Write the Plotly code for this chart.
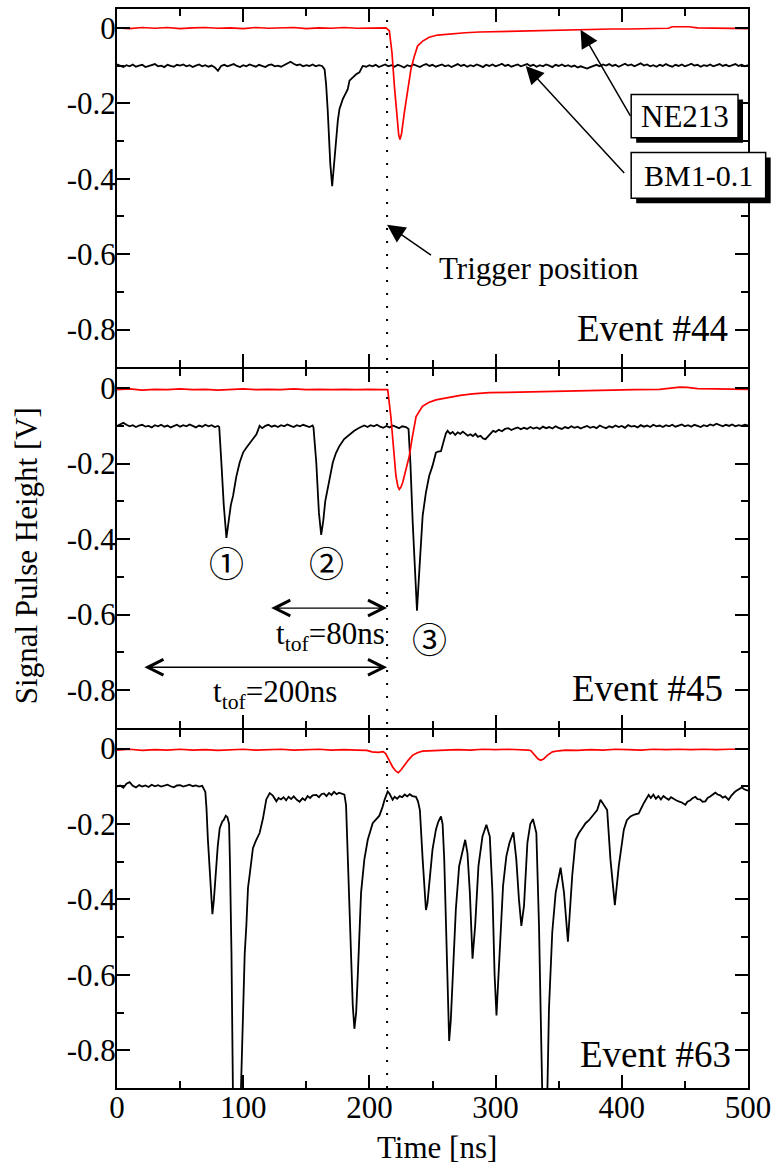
import plotly.graph_objects as go
from plotly.subplots import make_subplots

# ---------------- data: (time [ns], signal [V]) ----------------
# Event #44
E44_BM1 = [(0,-0.097),(2.5,-0.101),(5,-0.104),(7.5,-0.099),(10,-0.102),(12.5,-0.097),(15,-0.103),(17.5,-0.1),
           (20,-0.098),(22.5,-0.104),(25,-0.101),(27.5,-0.099),(30,-0.096),(32.5,-0.102),(35,-0.1),(37.5,-0.104),
           (40,-0.098),(42.5,-0.101),(45,-0.103),(47.5,-0.098),(50,-0.1),(52.5,-0.097),(55,-0.102),(57.5,-0.099),
           (60,-0.104),(62.5,-0.1),(65,-0.097),(67.5,-0.102),(70,-0.099),(72.5,-0.103),(75,-0.1),(77.5,-0.105),
           (80,-0.114),(82.5,-0.101),(85,-0.098),(87.5,-0.102),(90,-0.099),(92.5,-0.096),(95,-0.101),
           (97.5,-0.104),(100,-0.099),(102.5,-0.102),(105,-0.097),(107.5,-0.101),(110,-0.103),(112.5,-0.098),
           (115,-0.1),(117.5,-0.104),(120,-0.099),(122.5,-0.097),(125,-0.102),(127.5,-0.1),(130,-0.103),
           (132.5,-0.098),(135,-0.094),(137.5,-0.09),(140,-0.095),(142.5,-0.099),(145,-0.097),(147.5,-0.102),
           (150,-0.099),(152.5,-0.101),(155,-0.097),(157.5,-0.102),(160,-0.099),(162.5,-0.101),
           (164.5,-0.11),(165.7,-0.15),(167,-0.22),(167.8,-0.285),(169,-0.36),(170.5,-0.42),
           (172,-0.36),(173.6,-0.285),(175,-0.245),(176.3,-0.215),(178.9,-0.189),(181.6,-0.171),(182.9,-0.162),
           (184.2,-0.14),(186.8,-0.132),(189.5,-0.123),(192.1,-0.118),(194.7,-0.101),
           (197.5,-0.103),(200,-0.099),(202.5,-0.102),(205,-0.098),(207.5,-0.104),(210,-0.1),(212.5,-0.097),
           (215,-0.102),(217.5,-0.099),(220,-0.103),(222.5,-0.098),(225,-0.101),(227.5,-0.105),(230,-0.099),
           (232.5,-0.102),(235,-0.097),(237.5,-0.1),(240,-0.104),(242.5,-0.099),(245,-0.096),(247.5,-0.101),
           (250,-0.098),(252.5,-0.103),(255,-0.1),(257.5,-0.097),(260,-0.102),(262.5,-0.099),(265,-0.104),
           (267.5,-0.1),(270,-0.096),(272.5,-0.101),(275,-0.098),(277.5,-0.103),(280,-0.099),(282.5,-0.102),
           (285,-0.097),(287.5,-0.1),(290,-0.104),(292.5,-0.098),(295,-0.101),(297.5,-0.097),(300,-0.102),
           (302.5,-0.099),(305,-0.095),(307.5,-0.101),(310,-0.098),(312.5,-0.103),(315,-0.1),(317.5,-0.097),
           (320,-0.102),(322.5,-0.099),(325,-0.096),(327.5,-0.101),(330,-0.098),(332.5,-0.103),(335,-0.099),
           (337.5,-0.102),(340,-0.097),(342.5,-0.1),(345,-0.104),(347.5,-0.098),(350,-0.101),(352.5,-0.097),
           (355,-0.102),(357.5,-0.099),(360,-0.103),(362.5,-0.1),(365,-0.105),(367.5,-0.102),(370,-0.106),
           (372.5,-0.108),(375,-0.104),(377.5,-0.101),(380,-0.098),(382.5,-0.102),(385,-0.097),(387.5,-0.1),
           (390,-0.096),(392.5,-0.101),(395,-0.098),(397.5,-0.103),(400,-0.099),(402.5,-0.095),(405,-0.1),
           (407.5,-0.097),(410,-0.102),(412.5,-0.099),(415,-0.094),(417.5,-0.1),(420,-0.097),(422.5,-0.102),
           (425,-0.099),(427.5,-0.103),(430,-0.098),(432.5,-0.101),(435,-0.096),(437.5,-0.1),(440,-0.103),
           (442.5,-0.098),(445,-0.101),(447.5,-0.097),(450,-0.102),(452.5,-0.099),(455,-0.095),(457.5,-0.1),
           (460,-0.098),(462.5,-0.103),(465,-0.099),(467.5,-0.101),(470,-0.097),(472.5,-0.102),(475,-0.099),
           (477.5,-0.096),(480,-0.101),(482.5,-0.098),(485,-0.102),(487.5,-0.099),(490,-0.096),(492.5,-0.101),
           (495,-0.098),(497.5,-0.102),(500,-0.099)]
E44_NE213 = [(0,0.0),(10,-0.002),(20,0.001),(30,-0.001),(40,0.001),(50,-0.002),(60,0.0),(70,0.001),(80,-0.001),
             (90,0.0),(100,-0.002),(110,0.001),(120,-0.001),(130,0.0),(140,0.001),(150,-0.002),(160,0.0),
             (170,-0.001),(180,0.001),(190,-0.001),(200,0.0),(208,-0.001),(213.2,0.0),(215.8,-0.008),
             (217.9,-0.066),(219.8,-0.154),(221.6,-0.232),(223.2,-0.283),(224.2,-0.296),(225.5,-0.28),
             (227.7,-0.224),(230.3,-0.162),(232.9,-0.11),(235.6,-0.075),(238.2,-0.048),(242.2,-0.035),
             (247.4,-0.025),(254,-0.019),(265.9,-0.015),(276,-0.013),(287,-0.011),(300,-0.01),(313,-0.009),
             (326,-0.008),(340,-0.006),(353,-0.005),(366,-0.004),(379,-0.004),(392,-0.003),(405,-0.003),
             (418,-0.002),(430,-0.002),(437,-0.001),(440,0.003),(447,0.004),(453,0.003),(460,0.0),(471,-0.001),
             (485,-0.002),(500,-0.002)]

# Event #45
E45_BM1 = [(0,-0.1),(2.5,-0.096),(5,-0.092),(7.5,-0.097),(10,-0.101),(12.5,-0.098),(15,-0.103),(17.5,-0.099),
           (20,-0.097),(22.5,-0.102),(25,-0.1),(27.5,-0.104),(30,-0.098),(32.5,-0.101),(35,-0.097),(37.5,-0.102),
           (40,-0.099),(42.5,-0.104),(45,-0.1),(47.5,-0.097),(50,-0.102),(52.5,-0.098),(55,-0.101),(57.5,-0.096),
           (60,-0.1),(62.5,-0.104),(65,-0.099),(67.5,-0.102),(70,-0.097),(72.5,-0.101),(75,-0.098),(77.5,-0.103),
           (80,-0.1),(81,-0.103),(82.7,-0.197),(84.6,-0.31),(86.7,-0.397),(88.5,-0.35),(90.2,-0.31),
           (92,-0.285),(94.5,-0.235),(97.2,-0.197),(100,-0.17),(102.5,-0.158),(105,-0.146),(107.7,-0.136),
           (110.5,-0.122),(113,-0.1),(115,-0.106),(117.5,-0.1),(120,-0.097),(122.5,-0.102),(125,-0.099),
           (127.5,-0.103),(130,-0.098),(132.5,-0.101),(135,-0.096),(137.5,-0.1),(140,-0.103),(142.5,-0.098),
           (145,-0.101),(147.5,-0.097),(150,-0.1),(152.5,-0.103),(155,-0.099),(155.7,-0.104),(157.9,-0.197),
           (160,-0.33),(161.8,-0.389),(163.5,-0.35),(165,-0.3),(167,-0.268),(169,-0.23),(171,-0.197),
           (173.5,-0.172),(176.3,-0.153),(180,-0.135),(184.2,-0.123),(188,-0.113),(192,-0.105),
           (196,-0.099),(198.5,-0.103),(201,-0.098),(203.5,-0.101),(206,-0.097),(208.5,-0.102),(211,-0.105),
           (213.5,-0.1),(216,-0.104),(218.5,-0.099),(221,-0.102),(223.5,-0.106),(226,-0.101),(229,-0.103),
           (231,-0.108),(232.5,-0.2),(234.3,-0.355),(236.4,-0.53),(237.7,-0.59),(239.5,-0.487),(242.2,-0.338),
           (244.8,-0.276),(247.4,-0.232),(250,-0.206),(252.7,-0.171),(254.5,-0.168),(256.7,-0.167),
           (258.5,-0.145),(260.6,-0.12),(262,-0.113),(264,-0.121),(266,-0.116),(268,-0.124),(270,-0.117),
           (272,-0.121),(274,-0.115),(276,-0.12),(278,-0.126),(280,-0.122),(282,-0.127),(284,-0.121),
           (286,-0.129),(288,-0.126),(290,-0.133),(292,-0.135),(294,-0.128),(296,-0.12),(298,-0.113),
           (300,-0.116),(302.5,-0.11),(305,-0.114),(307.5,-0.108),(310,-0.106),(312.5,-0.111),(315,-0.107),
           (317.5,-0.104),(320,-0.109),(322.5,-0.105),(325,-0.108),(327.5,-0.103),(330,-0.107),(332.5,-0.104),
           (335,-0.108),(337.5,-0.102),(340,-0.106),(342.5,-0.103),(345,-0.107),(347.5,-0.101),(350,-0.105),
           (352.5,-0.108),(355,-0.103),(357.5,-0.106),(360,-0.101),(362.5,-0.105),(365,-0.102),(367.5,-0.107),
           (370,-0.103),(372.5,-0.1),(375,-0.105),(377.5,-0.102),(380,-0.106),(382.5,-0.099),(385,-0.103),
           (387.5,-0.106),(390,-0.101),(392.5,-0.104),(395,-0.099),(397.5,-0.103),(400,-0.1),(402.5,-0.105),
           (405,-0.098),(407.5,-0.102),(410,-0.1),(412.5,-0.104),(415,-0.098),(417.5,-0.102),(420,-0.099),
           (422.5,-0.103),(425,-0.097),(427.5,-0.101),(430,-0.099),(432.5,-0.103),(435,-0.098),(437.5,-0.101),
           (440,-0.097),(442.5,-0.102),(445,-0.099),(447.5,-0.096),(450,-0.101),(452.5,-0.098),(455,-0.102),
           (457.5,-0.097),(460,-0.1),(462.5,-0.103),(465,-0.098),(467.5,-0.101),(470,-0.096),(472.5,-0.099),
           (475,-0.094),(477.5,-0.098),(480,-0.101),(482.5,-0.097),(485,-0.1),(487.5,-0.096),(490,-0.101),
           (492.5,-0.098),(495,-0.1),(497.5,-0.097),(500,-0.099)]
E45_NE213 = [(0,-0.004),(10,-0.002),(20,-0.005),(30,-0.003),(40,-0.004),(50,-0.002),(60,-0.004),(70,-0.003),
             (80,-0.005),(90,-0.003),(100,-0.002),(110,-0.004),(120,-0.003),(130,-0.004),(140,-0.002),
             (150,-0.004),(160,-0.003),(170,-0.004),(180,-0.003),(190,-0.004),(200,-0.003),(210,-0.004),
             (214.5,-0.004),(217,-0.075),(219,-0.15),(221,-0.232),(222.5,-0.26),(223.7,-0.268),(225,-0.262),
             (226.4,-0.25),(229,-0.215),(231.6,-0.18),(234,-0.13),(237,-0.075),(242,-0.048),(247,-0.038),
             (252.7,-0.031),(263,-0.024),(272,-0.019),(281.7,-0.015),(295,-0.012),(310,-0.011),(334,-0.009),
             (360,-0.007),(387,-0.004),(410,-0.004),(430,-0.003),(440,0.0),(446,0.003),(452,0.002),
             (460,-0.001),(475,-0.002),(490,-0.003),(500,-0.003)]

# Event #63
E63_BM1 = [(0,-0.101),(2.5,-0.098),(5,-0.104),(7.5,-0.093),(10,-0.089),(12.5,-0.099),(15,-0.103),(17.5,-0.097),
           (20,-0.101),(22.5,-0.098),(25,-0.102),(27.5,-0.096),(30,-0.1),(32.5,-0.097),(35,-0.101),(37.5,-0.098),
           (40,-0.096),(42.5,-0.1),(45,-0.103),(47.5,-0.098),(50,-0.097),(52.5,-0.101),(55,-0.099),(57.5,-0.096),
           (60,-0.1),(62.5,-0.098),(65,-0.101),(67.5,-0.099),
           (70,-0.115),(70.9,-0.158),(72,-0.24),(73.5,-0.325),(74.7,-0.4),(75.6,-0.439),
           (76.8,-0.4),(78.2,-0.325),(79.8,-0.26),(81.4,-0.211),(83.5,-0.193),(84.5,-0.19),(86.2,-0.178),
           (87.5,-0.182),(88.8,-0.2),(89.5,-0.3),(90.7,-0.54),(92,-0.95),(94,-1.05),(97,-1.05),(98.5,-0.86),
           (99.5,-0.75),(101.2,-0.544),(102.5,-0.47),(103.8,-0.369),(105,-0.338),(107.7,-0.264),(110,-0.245),
           (113,-0.224),(115.7,-0.185),(118.3,-0.135),(121,-0.118),(123.5,-0.125),(126.3,-0.14),(128,-0.131),
           (130,-0.135),(132,-0.129),(134,-0.137),(136,-0.128),(138,-0.134),(140,-0.127),(142.5,-0.136),
           (144.7,-0.141),(147,-0.132),(149,-0.137),(151,-0.126),(153,-0.131),(155,-0.124),(157.9,-0.123),
           (160,-0.129),(162,-0.121),(164,-0.119),(166,-0.126),(168,-0.118),(170,-0.123),(172,-0.115),
           (174,-0.121),(176,-0.117),(178,-0.12),(180.2,-0.122),(181.5,-0.15),(182.9,-0.294),(184.2,-0.43),
           (185.5,-0.557),(186.8,-0.68),(188.1,-0.743),(189.5,-0.7),(190.8,-0.601),(192.1,-0.48),(193.4,-0.382),
           (196,-0.294),(198.7,-0.242),(202.6,-0.198),(205,-0.19),(207.9,-0.178),(210.5,-0.154),(212,-0.136),
           (214.5,-0.114),(216,-0.12),(218.4,-0.136),(220,-0.128),(222,-0.133),(224,-0.126),(226,-0.129),
           (228,-0.122),(230,-0.127),(232,-0.121),(234,-0.126),(236.9,-0.128),(238.5,-0.14),(240,-0.163),
           (242.2,-0.294),(244.8,-0.428),(246,-0.41),(247.4,-0.364),(250,-0.268),(252.7,-0.215),(254.5,-0.195),
           (256.7,-0.18),(258,-0.2),(259.3,-0.294),(260.6,-0.47),(262,-0.66),(263.2,-0.775),(264.5,-0.72),
           (265.9,-0.601),(268.5,-0.426),(271.1,-0.312),(273.8,-0.268),(275.9,-0.242),(277.7,-0.277),
           (279.6,-0.382),(281.7,-0.557),(283.8,-0.47),(286.4,-0.312),(289.6,-0.233),(292.7,-0.202),
           (295.4,-0.233),(297.5,-0.382),(299.2,-0.6),(300.7,-0.708),(302,-0.62),(303.3,-0.514),(305.9,-0.364),
           (308.5,-0.286),(311,-0.25),(314.1,-0.222),(316.4,-0.294),(318.5,-0.4),(320.4,-0.47),(322.5,-0.417),
           (325.2,-0.25),(327.5,-0.2),(329.6,-0.187),(332.3,-0.224),(334.4,-0.47),(336,-0.75),(337.5,-1.0),
           (340.5,-1.0),(342.3,-0.689),(344.9,-0.487),(347.6,-0.382),(351.5,-0.316),(354.2,-0.382),
           (357.3,-0.512),(360.7,-0.338),(363.4,-0.242),(366,-0.224),(368.5,-0.212),(371.3,-0.198),(374,-0.19),
           (376.5,-0.18),(378.5,-0.172),(380.5,-0.163),(383.1,-0.136),(386,-0.15),(388.4,-0.163),(391,-0.294),
           (394.5,-0.415),(397.6,-0.312),(401.6,-0.215),(404,-0.19),(406.9,-0.18),(410,-0.175),(413.4,-0.172),
           (417.4,-0.145),(421.3,-0.123),(423,-0.131),(425,-0.122),(427,-0.133),(429,-0.126),(431,-0.135),
           (433,-0.126),(435,-0.131),(437.2,-0.136),(439,-0.129),(441,-0.134),(443,-0.137),(445,-0.14),
           (447.5,-0.143),(450.4,-0.149),(452,-0.141),(454,-0.138),(456,-0.132),(458.3,-0.128),(460,-0.134),
           (462,-0.135),(464,-0.141),(466.2,-0.14),(468,-0.131),(470,-0.127),(472,-0.121),(474.1,-0.117),
           (476,-0.122),(478,-0.124),(480,-0.13),(482,-0.127),(484.6,-0.136),(487,-0.124),(489.9,-0.114),
           (492.5,-0.108),(495.1,-0.103),(497,-0.108),(500,-0.112)]
E63_NE213 = [(0,-0.004),(10,-0.002),(20,-0.005),(30,-0.003),(40,-0.004),(50,-0.002),(60,-0.004),(70,-0.003),
             (80,-0.005),(90,-0.003),(100,-0.002),(110,-0.004),(120,-0.003),(130,-0.002),(140,-0.004),
             (150,-0.003),(160,-0.002),(170,-0.004),(180,-0.003),(190,-0.004),(198,-0.005),(202,-0.009),
             (207,-0.01),(211,-0.008),(213,-0.014),(215.5,-0.03),(218.4,-0.049),(221,-0.06),(222.9,-0.064),
             (225,-0.057),(227.7,-0.044),(231,-0.03),(234.2,-0.018),(238,-0.011),(242,-0.007),(250,-0.005),
             (260,-0.004),(270,-0.003),(280,-0.004),(290,-0.002),(300,-0.003),(310,-0.002),(320,-0.003),
             (326,-0.004),(328,-0.006),(331,-0.018),(333.5,-0.027),(335.7,-0.031),(338,-0.028),(341,-0.018),
             (345,-0.009),(350,-0.006),(355.5,-0.004),(365,-0.005),(375,-0.003),(385,-0.004),(395,-0.002),
             (405,-0.003),(415,-0.004),(425,-0.002),(435,-0.003),(445,-0.002),(455,-0.003),(465,-0.002),
             (475,-0.003),(485,-0.002),(500,-0.002)]

EVENT_LABELS = ["Event #44", "Event #45", "Event #63"]
SERIES_NAMES = ["NE213", "BM1-0.1"]
X_TICKS = [0, 100, 200, 300, 400, 500]
X_TICK_TEXT = ["0", "100", "200", "300", "400", "500"]
X_MINOR = [50, 150, 250, 350, 450]
Y_TICKS = [0, -0.2, -0.4, -0.6, -0.8]
Y_TICK_TEXT = ["0", "-0.2", "-0.4", "-0.6", "-0.8"]
Y_MINOR = [-0.1, -0.3, -0.5, -0.7]
TRIGGER_T = 214          # trigger position [ns]
TOF_SHORT = (121, 214)   # t_tof = 80 ns arrow extent
TOF_LONG = (20.5, 214)   # t_tof = 200 ns arrow extent

# ---------------- layout constants ----------------
W, H = 778, 1172
ML, MR, MT, MB = 117, 29, 7, 84
PW, PH = W - ML - MR, H - MT - MB
LW = 2
FONT = "Liberation Serif, Times New Roman, serif"
CIRC_FONT = "Liberation Serif, Noto Sans CJK JP, serif"


def pxx(px):
    return (px - ML) / PW


def pxy(py):
    return (H - MB - py) / PH


fig = make_subplots(rows=3, cols=1, shared_xaxes=True, vertical_spacing=LW / PH)

panels = [(E44_BM1, E44_NE213), (E45_BM1, E45_NE213), (E63_BM1, E63_NE213)]
for i, (bm, ne) in enumerate(panels, start=1):
    t, v = zip(*bm)
    fig.add_trace(go.Scatter(x=t, y=v, mode="lines", name=SERIES_NAMES[1],
                             line=dict(color="black", width=1.8), showlegend=False,
                             hoverinfo="skip"), row=i, col=1)
    t, v = zip(*ne)
    fig.add_trace(go.Scatter(x=t, y=v, mode="lines", name=SERIES_NAMES[0],
                             line=dict(color="#ff0000", width=1.7), showlegend=False,
                             hoverinfo="skip"), row=i, col=1)

for i in range(1, 4):
    fig.update_xaxes(row=i, col=1, range=[0, 500], tickmode="array", tickvals=X_TICKS,
                     ticktext=X_TICK_TEXT, ticks="inside", ticklen=13, tickwidth=2,
                     tickcolor="black", showline=True, linewidth=LW, linecolor="black",
                     mirror="ticks", showgrid=False, zeroline=False, ticklabelstandoff=-9,
                     showticklabels=(i == 3), tickfont=dict(size=31, family=FONT, color="black"),
                     minor=dict(tickmode="array", tickvals=X_MINOR, ticks="inside", ticklen=7,
                                tickwidth=2, tickcolor="black", showgrid=False))
    fig.update_yaxes(row=i, col=1, range=[-0.9, 0.05], tickmode="array", tickvals=Y_TICKS,
                     ticktext=Y_TICK_TEXT, ticks="inside", ticklen=13, tickwidth=2,
                     tickcolor="black", showline=True, linewidth=LW, linecolor="black",
                     mirror="ticks", showgrid=False, zeroline=False, ticklabelstandoff=-7,
                     tickfont=dict(size=31, family=FONT, color="black"),
                     minor=dict(tickmode="array", tickvals=Y_MINOR, ticks="inside", ticklen=7,
                                tickwidth=2, tickcolor="black", showgrid=False))

shapes = []
# trigger dotted line across all panels
shapes.append(dict(type="line", xref="x", yref="paper", x0=TRIGGER_T, x1=TRIGGER_T, y0=0, y1=0.995,
                   line=dict(color="black", width=2, dash="2px,11px"), layer="above"))
# label boxes with drop shadows (pixel positions)
boxes = [((632, 92.7, 739, 136), SERIES_NAMES[0], 31), ((632, 150.7, 766.7, 196.7), SERIES_NAMES[1], 30)]
annotations = []
for (x0, y0, x1, y1), label, fs in boxes:
    shapes.append(dict(type="rect", xref="paper", yref="paper", x0=pxx(x0 + 5), x1=pxx(x1 + 5),
                       y0=pxy(y1 + 5), y1=pxy(y0 + 5), fillcolor="black", line=dict(width=0),
                       layer="above"))
    shapes.append(dict(type="rect", xref="paper", yref="paper", x0=pxx(x0), x1=pxx(x1),
                       y0=pxy(y1), y1=pxy(y0), fillcolor="white",
                       line=dict(color="black", width=1.5), layer="above"))
    annotations.append(dict(xref="paper", yref="paper", x=pxx((x0 + x1) / 2), y=pxy((y0 + y1) / 2),
                            text=label, showarrow=False, xanchor="center", yanchor="middle",
                            font=dict(size=fs, family=FONT, color="black")))

arrow_style = dict(showarrow=True, arrowhead=2, arrowsize=2.4, arrowwidth=1.5, arrowcolor="black",
                   standoff=0, text="")
# NE213 / BM1 pointer arrows and trigger arrow (panel 1)
annotations.append(dict(xref="x", yref="y", x=367.3, y=-0.005, axref="x", ayref="y", ax=407.5, ay=-0.237,
                        **arrow_style))
annotations.append(dict(xref="x", yref="y", x=323.9, y=-0.101, axref="x", ayref="y", ax=403, ay=-0.389,
                        **arrow_style))
annotations.append(dict(xref="x", yref="y", x=TRIGGER_T, y=-0.522, axref="x", ayref="y", ax=250, ay=-0.605,
                        **arrow_style))
annotations.append(dict(xref="x", yref="y", x=253.8, y=-0.637, text="Trigger position", showarrow=False,
                        xanchor="left", yanchor="middle", font=dict(size=31, family=FONT, color="black")))

# time-of-flight double arrows (panel 2)
tof_style = dict(showarrow=True, arrowhead=5, startarrowhead=5, arrowside="end+start", arrowsize=2.2,
                 startarrowsize=2.2, arrowwidth=1.4, arrowcolor="black", standoff=0, startstandoff=0, text="")
annotations.append(dict(xref="x2", yref="y2", x=TOF_SHORT[1], y=-0.583, axref="x2", ayref="y2",
                        ax=TOF_SHORT[0], ay=-0.583, **tof_style))
annotations.append(dict(xref="x2", yref="y2", x=TOF_LONG[1], y=-0.74, axref="x2", ayref="y2",
                        ax=TOF_LONG[0], ay=-0.74, **tof_style))
annotations.append(dict(xref="x2", yref="y2", x=169, y=-0.658, text="t<sub>tof</sub>=80ns", showarrow=False,
                        xanchor="center", yanchor="middle", font=dict(size=31, family=FONT, color="black")))
annotations.append(dict(xref="x2", yref="y2", x=125, y=-0.81, text="t<sub>tof</sub>=200ns", showarrow=False,
                        xanchor="center", yanchor="middle", font=dict(size=31, family=FONT, color="black")))
for (tx, ty, lab) in [(86.6, -0.469, "①"), (165.8, -0.469, "②"), (248, -0.671, "③")]:
    annotations.append(dict(xref="x2", yref="y2", x=tx, y=ty, text=lab, showarrow=False,
                            xanchor="center", yanchor="middle",
                            font=dict(size=35, family=CIRC_FONT, color="black")))

# event labels
for i, (tx, ty) in enumerate([(486, -0.797), (482, -0.797), (488.5, -0.812)], start=1):
    annotations.append(dict(xref=f"x{'' if i == 1 else i}", yref=f"y{'' if i == 1 else i}", x=tx, y=ty,
                            text=EVENT_LABELS[i - 1], showarrow=False, xanchor="right", yanchor="middle",
                            font=dict(size=37, family=FONT, color="black")))

# axis titles
annotations.append(dict(xref="paper", yref="paper", x=pxx(27), y=pxy(555), text="Signal Pulse Height [V]",
                        textangle=-90, showarrow=False, xanchor="center", yanchor="middle",
                        font=dict(size=31, family=FONT, color="black")))
annotations.append(dict(xref="paper", yref="paper", x=pxx(438), y=pxy(1148), text="Time [ns]",
                        showarrow=False, xanchor="center", yanchor="middle",
                        font=dict(size=31, family=FONT, color="black")))

fig.update_layout(width=W, height=H, margin=dict(l=ML, r=MR, t=MT, b=MB), paper_bgcolor="white",
                  plot_bgcolor="white", font=dict(family=FONT, color="black"), showlegend=False,
                  shapes=shapes, annotations=annotations)

fig.write_html("out.html", config={"displayModeBar": False},
               post_script="document.body.style.margin='0px';")
